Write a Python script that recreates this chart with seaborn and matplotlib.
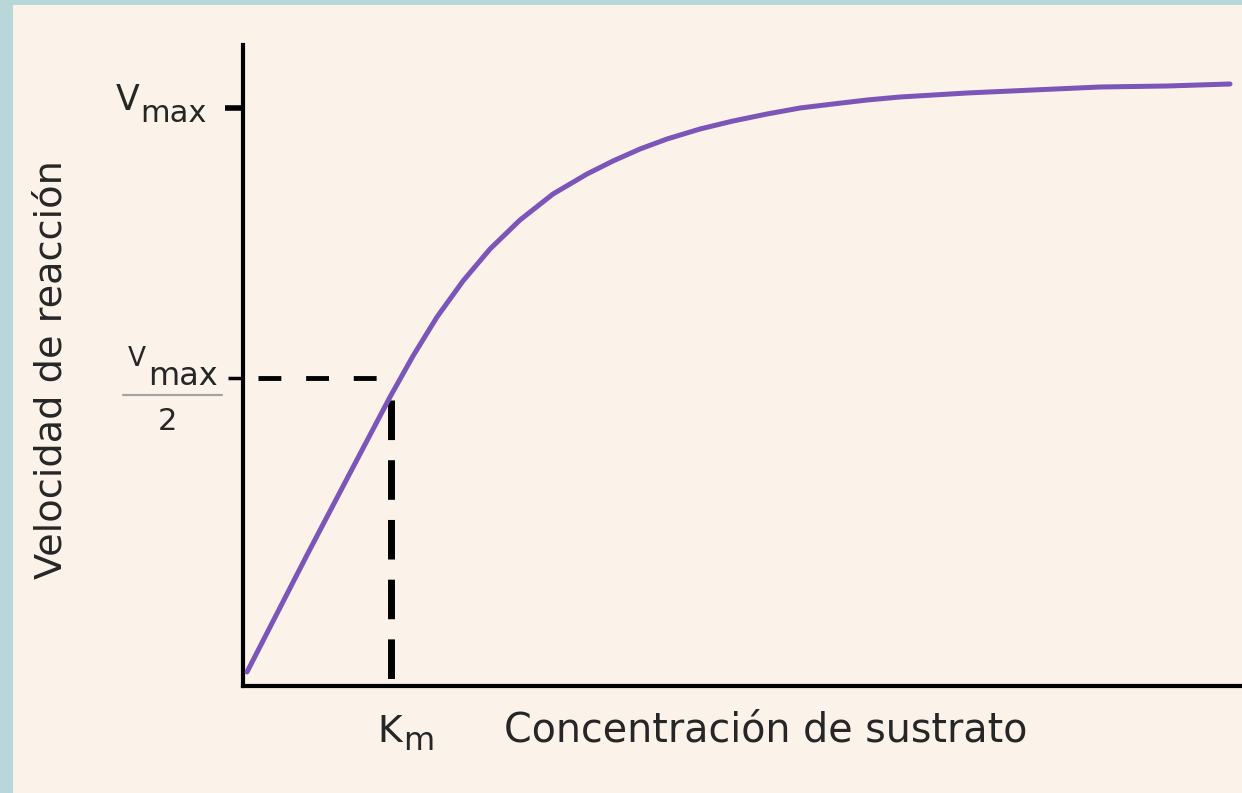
import matplotlib
matplotlib.use("Agg")
import matplotlib.pyplot as plt
import matplotlib.transforms as mtransforms
from matplotlib.patches import Rectangle
from matplotlib.lines import Line2D
import pandas as pd
import seaborn as sns

# ── Data (arbitrary units) ───────────────────────────────────────────────────
substrate = [4, 64, 107, 147, 170, 194, 220, 247, 277, 310, 344, 370, 397,
             424, 457, 490, 524, 557, 590, 624, 657, 724, 790, 857, 924, 987]
velocity = [14, 131, 213, 289, 330, 369, 405, 437, 466, 492, 512, 525, 537,
            547, 557, 565, 572, 578, 582, 586, 589, 593, 596, 599, 600, 602]

km = 148            # K_m position on the substrate axis
vmax = 578          # V_max tick
half_vmax = 308     # V_max / 2 tick
x_max = 999
y_max = 641

x_label = "Concentración de sustrato"
y_label = "Velocidad de reacción"

# ── Colours ──────────────────────────────────────────────────────────────────
BORDER = "#b7d7d9"
PANEL = "#fbf3ea"
PURPLE = "#7b55b8"
INK = "#262626"

sns.set_style("ticks")
plt.rcParams["font.family"] = ["DejaVu Sans"]

W, H = 1242, 793
fig = plt.figure(figsize=(W / 100, H / 100), dpi=100)
fig.patch.set_facecolor(BORDER)
fig.patches.append(Rectangle((13 / W, 0), 1, 1 - 5 / H, transform=fig.transFigure,
                             facecolor=PANEL, edgecolor="none", zorder=-5))

ax = fig.add_axes([243 / W, (H - 686) / H, x_max / W, y_max / H])
ax.set_facecolor("none")

df = pd.DataFrame({"s": substrate, "v": velocity})
sns.lineplot(data=df, x="s", y="v", color=PURPLE, linewidth=3.6, ax=ax,
             solid_capstyle="round", solid_joinstyle="round", zorder=3)

# dashed guides for K_m and V_max/2
ax.plot([15, 145], [half_vmax, half_vmax], color="black", linewidth=3.5,
        dashes=(4.7, 5.1), solid_capstyle="butt", zorder=2)
ax.plot([km, km], [286, 0], color="black", linewidth=5,
        dashes=(5.7, 2.9), solid_capstyle="butt", zorder=2)

ax.set_xlim(0, x_max)
ax.set_ylim(0, y_max)
ax.set_xlabel("")
ax.set_ylabel("")

sns.despine(ax=ax, top=True, right=True)
for side in ("left", "bottom"):
    ax.spines[side].set_linewidth(3)
    ax.spines[side].set_color("black")

ax.set_xticks([km])
ax.set_xticklabels([""])
ax.tick_params(axis="x", length=0)
ax.set_yticks([half_vmax, vmax])
ax.set_yticklabels(["", ""])
ax.tick_params(axis="y", length=13, width=4, color="black")
half_tick = ax.yaxis.get_major_ticks()[0]
half_tick.tick1line.set_markersize(11)
half_tick.tick1line.set_markeredgewidth(2.5)

# ── tick labels built from pieces (subscripts are large in the original) ─────
ytr = mtransforms.blended_transform_factory(ax.transAxes, ax.transData)


def piece(text, anchor, dx, dy, size, ha="right", coords=("axes fraction", "data")):
    ax.annotate(text, xy=anchor, xycoords=coords, xytext=(dx, dy),
                textcoords="offset pixels", ha=ha, va="baseline",
                fontsize=size, color=INK, annotation_clip=False)


# V_max
piece("max", (0, vmax), -36, -14, 22)
piece("V", (0, vmax), -104, -2, 25)

# V_max / 2
piece("V", (0, half_vmax), -97, 12, 19)
piece("max", (0, half_vmax), -25, -7, 23)
piece("2", (0, half_vmax), -76, -52, 22, ha="center")
ax.add_line(Line2D([-120 / x_max, -21 / x_max], [half_vmax - 17, half_vmax - 17],
                   transform=ytr, color="#a3a3a3", linewidth=1.6, clip_on=False))

# K_m
piece("K", (km, 0), -14, -56, 27, ha="left", coords="data")
piece("m", (km, 0), 12, -64, 23, ha="left", coords="data")

# axis titles
fig.text(766 / W, 1 - 741 / H, x_label, ha="center", va="baseline",
         fontsize=28.5, color=INK)
fig.text(52 / W, 1 - 370 / H, y_label, ha="center", va="center",
         rotation=90, fontsize=27.5, color=INK)

plt.savefig("out.png", dpi=100, facecolor=BORDER)
plt.close()
